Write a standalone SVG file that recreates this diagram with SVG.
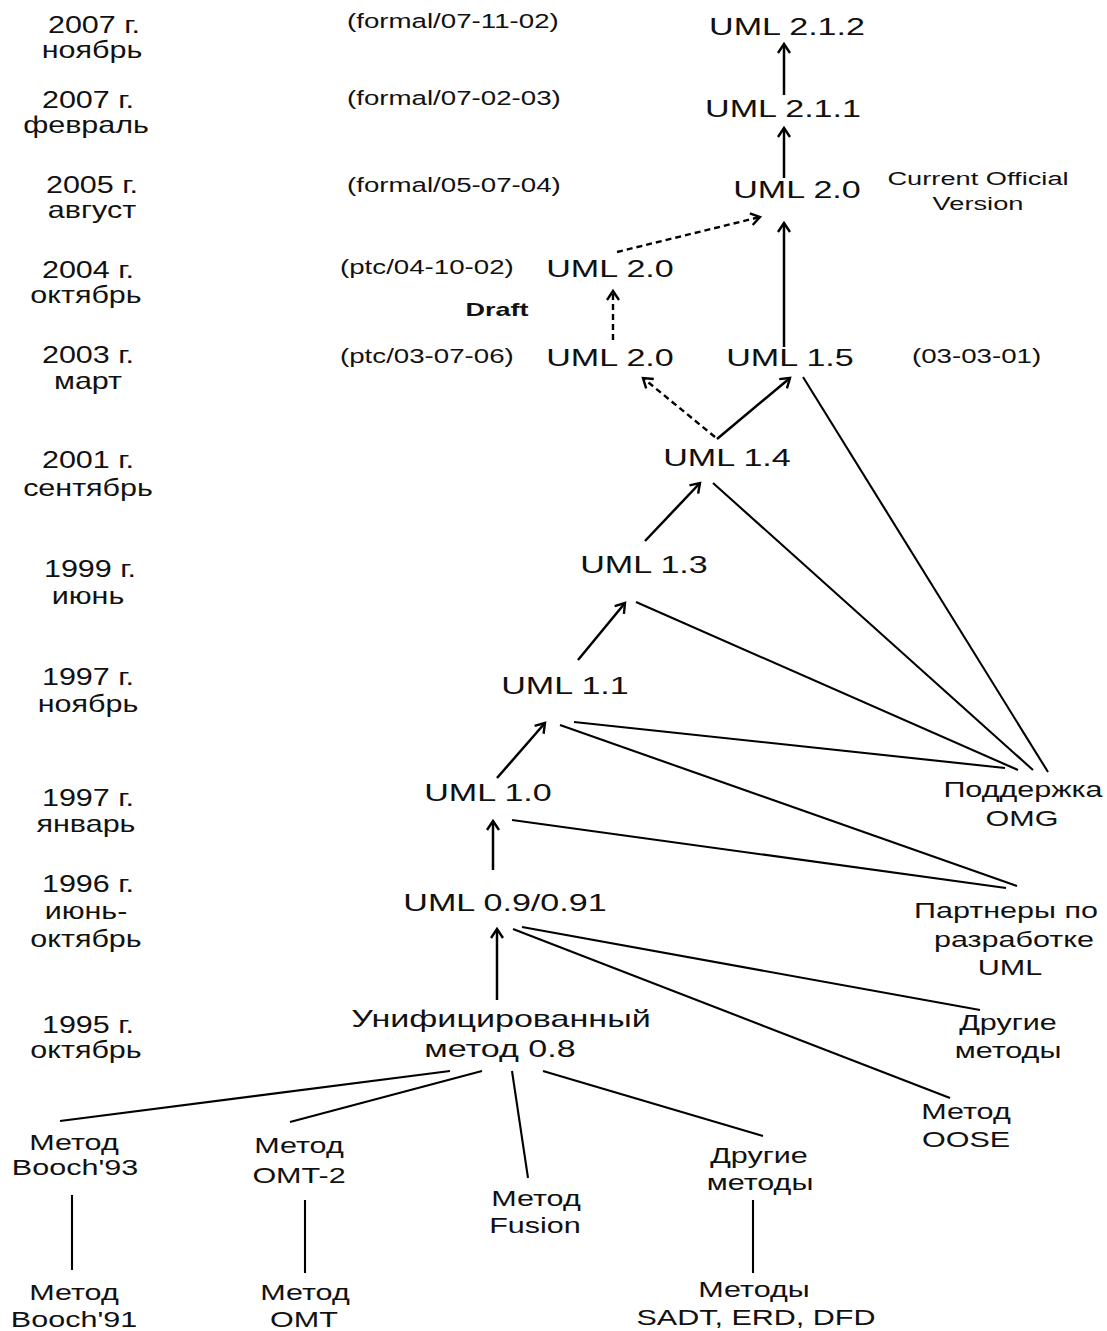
<svg xmlns="http://www.w3.org/2000/svg" width="1107" height="1331" viewBox="0 0 1107 1331">
<style>
text{font-family:"Liberation Sans",Arial,sans-serif;fill:#111}
.u{font-size:24px;text-anchor:middle}
.y{font-size:24px;text-anchor:middle}
.s{font-size:19.5px;text-anchor:start}
.c{font-size:19.2px;text-anchor:middle}
.d{font-size:19px;font-weight:bold;text-anchor:middle}
.m{font-size:21.5px;text-anchor:middle}
.l{stroke:#000;stroke-width:2.5;fill:none}
.t{stroke:#000;stroke-width:2.1;fill:none}
.ds{stroke:#000;stroke-width:2.4;fill:none;stroke-dasharray:6 4}
</style>
<defs>
<marker id="ah" markerUnits="userSpaceOnUse" markerWidth="20" markerHeight="20" refX="0" refY="0" viewBox="-12 -10 16 20" orient="auto" overflow="visible">
<path d="M-9,-6 L0,0 L-9,6" fill="none" stroke="#000" stroke-width="2.4"/>
</marker>
</defs>
<rect width="1107" height="1331" fill="#fff"/>

<g id="years">
<text class="y" transform="translate(94,33) scale(1.27,1)">2007 г.</text>
<text class="y" transform="translate(92,58) scale(1.27,1)">ноябрь</text>
<text class="y" transform="translate(88,108) scale(1.27,1)">2007 г.</text>
<text class="y" transform="translate(86,133) scale(1.27,1)">февраль</text>
<text class="y" transform="translate(92,193) scale(1.27,1)">2005 г.</text>
<text class="y" transform="translate(92,218) scale(1.27,1)">август</text>
<text class="y" transform="translate(88,278) scale(1.27,1)">2004 г.</text>
<text class="y" transform="translate(86,303) scale(1.27,1)">октябрь</text>
<text class="y" transform="translate(88,363) scale(1.27,1)">2003 г.</text>
<text class="y" transform="translate(88,389) scale(1.27,1)">март</text>
<text class="y" transform="translate(88,468) scale(1.27,1)">2001 г.</text>
<text class="y" transform="translate(88,496) scale(1.27,1)">сентябрь</text>
<text class="y" transform="translate(90,577) scale(1.27,1)">1999 г.</text>
<text class="y" transform="translate(88,604) scale(1.27,1)">июнь</text>
<text class="y" transform="translate(88,685) scale(1.27,1)">1997 г.</text>
<text class="y" transform="translate(88,712) scale(1.27,1)">ноябрь</text>
<text class="y" transform="translate(88,806) scale(1.27,1)">1997 г.</text>
<text class="y" transform="translate(86,832) scale(1.27,1)">январь</text>
<text class="y" transform="translate(88,892) scale(1.27,1)">1996 г.</text>
<text class="y" transform="translate(86,919) scale(1.27,1)">июнь-</text>
<text class="y" transform="translate(86,947) scale(1.27,1)">октябрь</text>
<text class="y" transform="translate(88,1033) scale(1.27,1)">1995 г.</text>
<text class="y" transform="translate(86,1058) scale(1.27,1)">октябрь</text>
</g>

<g id="notes">
<text class="s" transform="translate(347,28) scale(1.42,1)">(formal/07-11-02)</text>
<text class="s" transform="translate(347,105) scale(1.42,1)">(formal/07-02-03)</text>
<text class="s" transform="translate(347,192) scale(1.42,1)">(formal/05-07-04)</text>
<text class="s" transform="translate(340,274) scale(1.42,1)">(ptc/04-10-02)</text>
<text class="s" transform="translate(340,363) scale(1.42,1)">(ptc/03-07-06)</text>
<text class="s" transform="translate(912,363) scale(1.42,1)">(03-03-01)</text>
<text class="d" transform="translate(497,316) scale(1.42,1)">Draft</text>
<text class="c" transform="translate(978,185) scale(1.42,1)">Current Official</text>
<text class="c" transform="translate(978,210) scale(1.42,1)">Version</text>
</g>

<g id="uml212"><text class="u" transform="translate(787,35) scale(1.42,1)">UML 2.1.2</text></g>
<g id="uml211"><text class="u" transform="translate(783,117) scale(1.42,1)">UML 2.1.1</text></g>
<g id="uml20"><text class="u" transform="translate(797,198) scale(1.42,1)">UML 2.0</text></g>
<g id="uml20draft2004"><text class="u" transform="translate(610,277) scale(1.42,1)">UML 2.0</text></g>
<g id="uml20draft2003"><text class="u" transform="translate(610,366) scale(1.42,1)">UML 2.0</text></g>
<g id="uml15"><text class="u" transform="translate(790,366) scale(1.42,1)">UML 1.5</text></g>
<g id="uml14"><text class="u" transform="translate(727,466) scale(1.42,1)">UML 1.4</text></g>
<g id="uml13"><text class="u" transform="translate(644,573) scale(1.42,1)">UML 1.3</text></g>
<g id="uml11"><text class="u" transform="translate(565,694) scale(1.42,1)">UML 1.1</text></g>
<g id="uml10"><text class="u" transform="translate(488,801) scale(1.42,1)">UML 1.0</text></g>
<g id="uml09"><text class="u" transform="translate(505,911) scale(1.42,1)">UML 0.9/0.91</text></g>
<g id="unified">
<text class="u" transform="translate(501,1027) scale(1.42,1)">Унифицированный</text>
<text class="u" transform="translate(500,1057) scale(1.42,1)">метод 0.8</text>
</g>
<g id="omg">
<text class="m" transform="translate(1023,797) scale(1.42,1)">Поддержка</text>
<text class="m" transform="translate(1022,826) scale(1.42,1)">OMG</text>
</g>
<g id="partners">
<text class="m" transform="translate(1006,918) scale(1.42,1)">Партнеры по</text>
<text class="m" transform="translate(1014,947) scale(1.42,1)">разработке</text>
<text class="m" transform="translate(1010,975) scale(1.42,1)">UML</text>
</g>
<g id="other-right">
<text class="m" transform="translate(1008,1030) scale(1.42,1)">Другие</text>
<text class="m" transform="translate(1008,1058) scale(1.42,1)">методы</text>
</g>
<g id="oose">
<text class="m" transform="translate(966,1119) scale(1.42,1)">Метод</text>
<text class="m" transform="translate(966,1147) scale(1.42,1)">OOSE</text>
</g>
<g id="booch93">
<text class="m" transform="translate(74,1150) scale(1.42,1)">Метод</text>
<text class="m" transform="translate(75,1175) scale(1.42,1)">Booch'93</text>
</g>
<g id="omt2">
<text class="m" transform="translate(299,1153) scale(1.42,1)">Метод</text>
<text class="m" transform="translate(299,1183) scale(1.42,1)">OMT-2</text>
</g>
<g id="fusion">
<text class="m" transform="translate(536,1206) scale(1.42,1)">Метод</text>
<text class="m" transform="translate(535,1233) scale(1.42,1)">Fusion</text>
</g>
<g id="other-bottom">
<text class="m" transform="translate(759,1163) scale(1.42,1)">Другие</text>
<text class="m" transform="translate(760,1190) scale(1.42,1)">методы</text>
</g>
<g id="booch91">
<text class="m" transform="translate(74,1300) scale(1.42,1)">Метод</text>
<text class="m" transform="translate(74,1327) scale(1.42,1)">Booch'91</text>
</g>
<g id="omt">
<text class="m" transform="translate(305,1300) scale(1.42,1)">Метод</text>
<text class="m" transform="translate(304,1327) scale(1.42,1)">OMT</text>
</g>
<g id="sadt">
<text class="m" transform="translate(754,1297) scale(1.42,1)">Методы</text>
<text class="m" transform="translate(756,1325) scale(1.42,1)">SADT, ERD, DFD</text>
</g>

<g id="connectors">
<line class="l" x1="784" y1="95" x2="784" y2="44" marker-end="url(#ah)"/>
<line class="l" x1="784" y1="178" x2="784" y2="128" marker-end="url(#ah)"/>
<line class="l" x1="784" y1="347" x2="784" y2="223" marker-end="url(#ah)"/>
<line class="ds" x1="617" y1="252" x2="760" y2="217" marker-end="url(#ah)"/>
<line class="ds" x1="613" y1="340" x2="613" y2="291" marker-end="url(#ah)"/>
<line class="ds" x1="715" y1="437" x2="643" y2="378" marker-end="url(#ah)"/>
<line class="l" x1="717" y1="439" x2="790" y2="378" marker-end="url(#ah)"/>
<line class="l" x1="645" y1="541" x2="700" y2="483" marker-end="url(#ah)"/>
<line class="l" x1="578" y1="660" x2="625" y2="603" marker-end="url(#ah)"/>
<line class="l" x1="497" y1="778" x2="545" y2="723" marker-end="url(#ah)"/>
<line class="l" x1="493" y1="870" x2="493" y2="821" marker-end="url(#ah)"/>
<line class="l" x1="497" y1="1000" x2="497" y2="929" marker-end="url(#ah)"/>
<line class="t" x1="803" y1="377" x2="1048" y2="772"/>
<line class="t" x1="713" y1="483" x2="1033" y2="770"/>
<line class="t" x1="636" y1="602" x2="1018" y2="770"/>
<line class="t" x1="574" y1="722" x2="1005" y2="768"/>
<line class="t" x1="560" y1="725" x2="1017" y2="886"/>
<line class="t" x1="512" y1="820" x2="1006" y2="888"/>
<line class="t" x1="522" y1="927" x2="980" y2="1010"/>
<line class="t" x1="513" y1="929" x2="950" y2="1098"/>
<line class="t" x1="450" y1="1071" x2="60" y2="1121"/>
<line class="t" x1="482" y1="1071" x2="290" y2="1122"/>
<line class="t" x1="512" y1="1071" x2="528" y2="1178"/>
<line class="t" x1="543" y1="1071" x2="763" y2="1136"/>
<line class="t" x1="72" y1="1195" x2="72" y2="1270"/>
<line class="t" x1="305" y1="1200" x2="305" y2="1273"/>
<line class="t" x1="753" y1="1200" x2="753" y2="1273"/>
</g>
</svg>
